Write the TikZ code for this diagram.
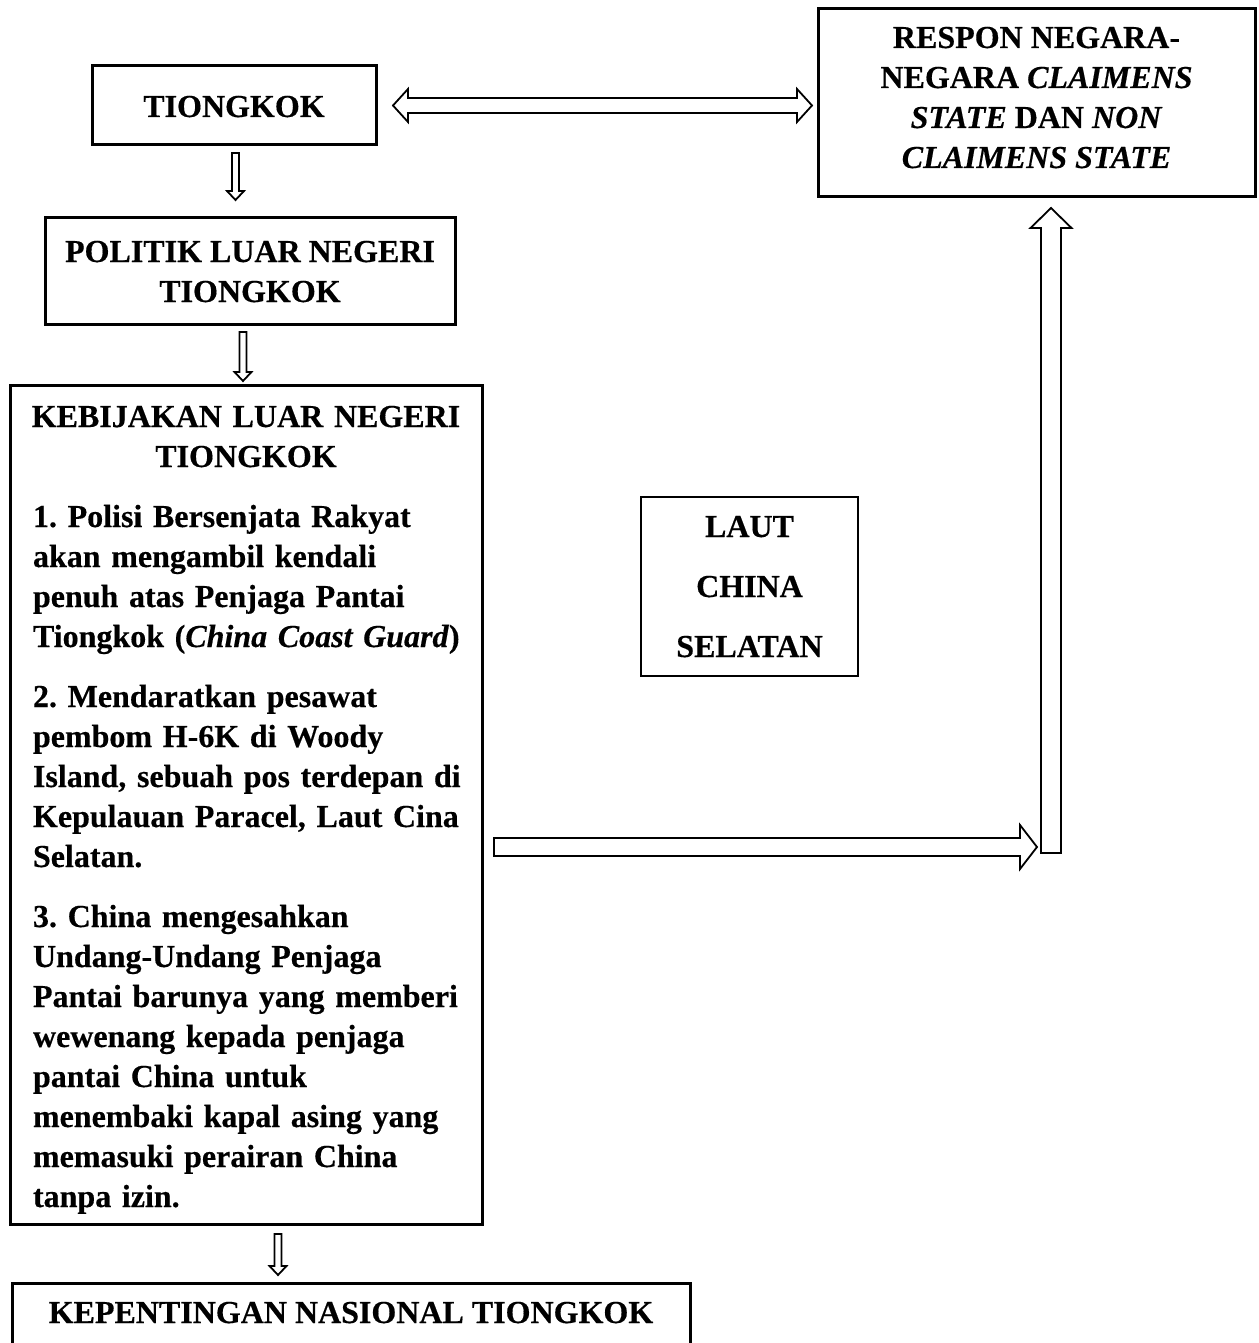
\documentclass[tikz,border=0pt]{standalone}
\usepackage{fontspec}
\setmainfont{Liberation Serif}[BoldFeatures={FakeBold=0.4},BoldItalicFeatures={FakeBold=0.4}]
\usetikzlibrary{calc}
\frenchspacing
\newcommand\tstr[1]{\rule{0pt}{#1pt}}
\newcommand\bstr[1]{\rule[-#1pt]{0pt}{#1pt}}
% single block arrow: start, end, shaft half width, head half width, head length
\newcommand\blockarrow[5]{%
  \coordinate (ba-s) at #1;
  \coordinate (ba-e) at #2;
  \coordinate (ba-h) at ($(ba-e)!#5pt!(ba-s)$);
  \draw[blockarrowstyle] ($(ba-s)!#3pt!90:(ba-e)$) -- ($(ba-h)!#3pt!90:(ba-e)$)
    -- ($(ba-h)!#4pt!90:(ba-e)$) -- (ba-e) -- ($(ba-h)!#4pt!-90:(ba-e)$)
    -- ($(ba-h)!#3pt!-90:(ba-e)$) -- ($(ba-s)!#3pt!-90:(ba-e)$) -- cycle;}
% double block arrow
\newcommand\dblockarrow[5]{%
  \coordinate (ba-s) at #1;
  \coordinate (ba-e) at #2;
  \coordinate (ba-h1) at ($(ba-s)!#5pt!(ba-e)$);
  \coordinate (ba-h2) at ($(ba-e)!#5pt!(ba-s)$);
  \draw[blockarrowstyle] (ba-s) -- ($(ba-h1)!#4pt!90:(ba-e)$) -- ($(ba-h1)!#3pt!90:(ba-e)$)
    -- ($(ba-h2)!#3pt!90:(ba-e)$) -- ($(ba-h2)!#4pt!90:(ba-e)$) -- (ba-e)
    -- ($(ba-h2)!#4pt!-90:(ba-e)$) -- ($(ba-h2)!#3pt!-90:(ba-e)$)
    -- ($(ba-h1)!#3pt!-90:(ba-e)$) -- ($(ba-h1)!#4pt!-90:(ba-e)$) -- cycle;}
\tikzset{
  box/.style={draw, line width=3pt, inner xsep=0pt, inner ysep=0pt, outer sep=0pt,
    align=center, font=\fontsize{32}{40}\selectfont\bfseries\frenchspacing, anchor=north},
  thinbox/.style={box, line width=1.2pt, font=\fontsize{32}{60}\selectfont\bfseries},
  blockarrowstyle/.style={draw, fill=white, line width=1.8pt, line join=miter}
}
\begin{document}
\begin{tikzpicture}[x=1pt, y=-1pt]
\useasboundingbox (0,0) rectangle (1258,1343);
\clip (0,0) rectangle (1258,1343);
\fill[white] (0,0) rectangle (1258,1343);

\node[box, minimum width=284pt] (tiongkok) at (234,66) {\tstr{51}TIONGKOK\bstr{28}};
\node[box, minimum width=410pt] (politik) at (250,217)
  {\tstr{45}POLITIK LUAR NEGERI\\TIONGKOK\bstr{22}};
\node[box, minimum width=437pt] (respon) at (1036.5,9)
  {\tstr{39}RESPON NEGARA-\\NEGARA \textit{CLAIMENS}\\\textit{STATE} DAN \textit{NON}\\\textit{CLAIMENS STATE}\bstr{29}};
\node[thinbox, minimum width=217pt] (laut) at (749.5,497)
  {\tstr{40}LAUT\\CHINA\\SELATAN\bstr{19}};
\node[box, minimum width=678pt] (kepentingan) at (351,1283)
  {\tstr{40}KEPENTINGAN NASIONAL TIONGKOK\bstr{52}};
\node[box, align=left, text width=432pt, inner xsep=20pt] (kebijakan) at (246,385)
  {\tstr{42}\makebox[\hsize]{KEBIJAKAN LUAR NEGERI}\\
   \makebox[\hsize]{TIONGKOK}\\[20pt]
   \hspace*{3pt}1. Polisi Bersenjata Rakyat\\
   \hspace*{3pt}akan mengambil kendali\\
   \hspace*{3pt}penuh atas Penjaga Pantai\\
   \hspace*{3pt}Tiongkok (\textit{China Coast Guard})\\[20pt]
   \hspace*{3pt}2. Mendaratkan pesawat\\
   \hspace*{3pt}pembom H-6K di Woody\\
   \hspace*{3pt}Island, sebuah pos terdepan di\\
   \hspace*{3pt}Kepulauan Paracel, Laut Cina\\
   \hspace*{3pt}Selatan.\\[20pt]
   \hspace*{3pt}3. China mengesahkan\\
   \hspace*{3pt}Undang-Undang Penjaga\\
   \hspace*{3pt}Pantai barunya yang memberi\\
   \hspace*{3pt}wewenang kepada penjaga\\
   \hspace*{3pt}pantai China untuk\\
   \hspace*{3pt}menembaki kapal asing yang\\
   \hspace*{3pt}memasuki perairan China\\
   \hspace*{3pt}tanpa izin.\bstr{17}};

\coordinate (bend) at (1051,853);

\dblockarrow{($(tiongkok.east)+(17,0)$)}{($(respon.west |- tiongkok.east)+(-6,0)$)}{7.5}{16.5}{15}
\blockarrow{($(tiongkok.south)+(1.5,8)$)}{($(tiongkok.south |- politik.north)+(1.5,-17)$)}{3.5}{8.5}{9}
\blockarrow{($(politik.south)+(-7,8)$)}{($(politik.south |- kebijakan.north)+(-7,-4)$)}{3.5}{8.5}{9}
\blockarrow{($(kebijakan.south)+(32,10)$)}{($(kebijakan.south |- kepentingan.north)+(32,-8)$)}{3.5}{8.5}{9}
\blockarrow{($(kebijakan.east |- bend)+(12,-6)$)}{($(bend)+(-14,-6)$)}{9}{22}{17}
\blockarrow{(bend)}{($(bend |- respon.south)+(0,11)$)}{10}{20.5}{20}
\end{tikzpicture}
\end{document}
